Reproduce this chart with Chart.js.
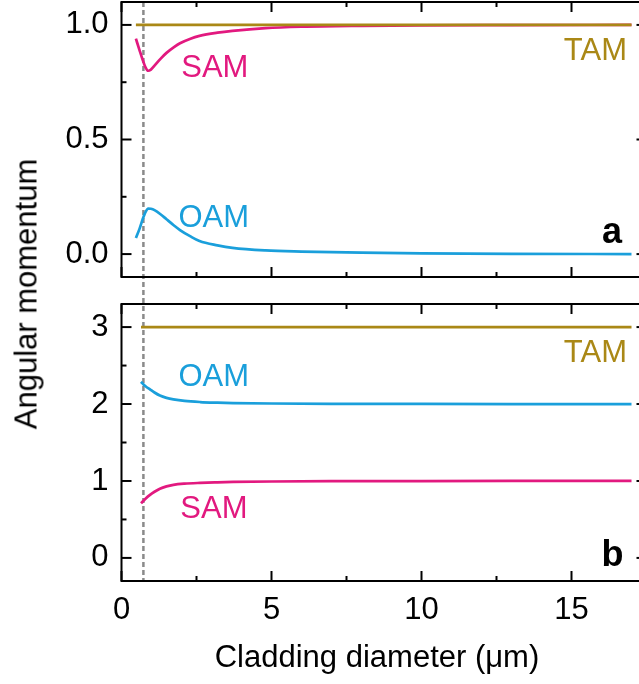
<!DOCTYPE html>
<html>
<head>
<meta charset="utf-8">
<script src="https://cdn.jsdelivr.net/npm/chart.js@4.4.0/dist/chart.umd.min.js"></script>
<style>
  body { margin: 0; width: 639px; height: 684px; overflow: hidden; background: #fff; position: relative; }
  canvas { position: absolute; left: 0; }
  #top { top: 0; }
  #bottom { top: 290px; }
  .axis-title {
    position: absolute; font-family: "Liberation Sans", Arial, sans-serif; font-size: 31px;
    line-height: 31px; white-space: nowrap; color: #000;
  }
  #ytitle { left: 26.4px; top: 294px; transform: translate(-50%, -50%) rotate(-90deg); }
  #xtitle { left: 377px; top: 640.5px; transform: translateX(-50%); }
</style>
</head>
<body>
<canvas id="top" width="660" height="290"></canvas>
<canvas id="bottom" width="660" height="394"></canvas>
<div id="ytitle" class="axis-title">Angular momentum</div>
<div id="xtitle" class="axis-title">Cladding diameter (μm)</div>
<script>
// axis ticks
const xTicks = [0, 5, 10, 15];
const xMinorTicks = [2.5, 7.5, 12.5, 17.5];
const topYTicks = [0, 0.5, 1.0];
const topYMinorTicks = [0.25, 0.75];
const bottomYTicks = [0, 1, 2, 3];
const bottomYMinorTicks = [0.5, 1.5, 2.5];
const cutoffDiameter = 0.73;

// panel a
const aTamX = [0.48, 17];
const aTam = [1, 1];
const aX = [0.48, 0.6, 0.7, 0.8, 0.89, 0.98, 1.1, 1.3, 1.5, 1.75, 1.95, 2.3, 2.6, 3.2, 3.7, 4.8, 6, 8, 10, 13, 17];
const aSam = [0.94, 0.89, 0.85, 0.815, 0.80, 0.805, 0.822, 0.852, 0.878, 0.903, 0.92, 0.94, 0.952, 0.966, 0.974, 0.986, 0.992, 0.996, 0.998, 0.999, 1.0];
const aOam = [0.07, 0.11, 0.15, 0.183, 0.199, 0.198, 0.192, 0.174, 0.152, 0.125, 0.105, 0.077, 0.057, 0.038, 0.027, 0.016, 0.011, 0.006, 0.003, 0.001, 0.0];

// panel b
const bTamX = [0.65, 17];
const bTam = [3, 3];
const bX = [0.65, 0.8, 0.95, 1.1, 1.28, 1.5, 1.73, 2.1, 2.62, 3.2, 3.72, 5, 7, 10, 13, 17];
const bOam = [2.29, 2.23, 2.19, 2.15, 2.11, 2.08, 2.06, 2.04, 2.026, 2.018, 2.013, 2.007, 2.003, 2.001, 2.0, 2.0];
const bSam = [0.71, 0.77, 0.82, 0.86, 0.90, 0.93, 0.95, 0.965, 0.975, 0.982, 0.987, 0.993, 0.997, 0.999, 1.0, 1.0];

const FONT = '"Liberation Sans", Arial, sans-serif';
const FS = 31;
const TAM_COLOR = '#AA8816';
const SAM_COLOR = '#E2197F';
const OAM_COLOR = '#1A9FDB';

const pts = (xs, ys) => xs.map((x, i) => ({ x: x, y: ys[i] }));

function line(data, color) {
  return {
    data: data,
    borderColor: color,
    borderWidth: 2.7,
    pointRadius: 0,
    fill: false,
    cubicInterpolationMode: 'monotone'
  };
}

// kill the label overflow padding so the plot box lands where we want it
function noPad(s) {
  s.paddingTop = 0; s.paddingBottom = 0; s.paddingLeft = 0; s.paddingRight = 0;
}

// box with inward ticks + dashed cutoff line
const framePlugin = {
  id: 'frame',
  beforeDatasetsDraw(chart, args, opts) {
    const { ctx, chartArea: a, scales: { x } } = chart;
    const px = x.getPixelForValue(cutoffDiameter);
    ctx.save();
    ctx.strokeStyle = '#8a8a8a';
    ctx.lineWidth = 2.5;
    ctx.setLineDash([5, 3]);
    ctx.beginPath();
    ctx.moveTo(px, opts.dashFrom === 'top' ? 0 : a.top);
    ctx.lineTo(px, opts.dashTo === 'bottom' ? chart.height : a.bottom);
    ctx.stroke();
    ctx.restore();
  },
  afterDatasetsDraw(chart, args, opts) {
    const { ctx, chartArea: a, scales: { x, y } } = chart;
    ctx.save();
    ctx.strokeStyle = '#000';
    ctx.lineWidth = 2;
    ctx.strokeRect(a.left, a.top, a.right - a.left, a.bottom - a.top);
    const seg = (x1, y1, x2, y2) => { ctx.beginPath(); ctx.moveTo(x1, y1); ctx.lineTo(x2, y2); ctx.stroke(); };
    const xt = (vals, len) => vals.forEach(v => {
      const p = x.getPixelForValue(v);
      seg(p, a.bottom, p, a.bottom - len);
      seg(p, a.top, p, a.top + len);
    });
    const yt = (vals, len) => vals.forEach(v => {
      const p = y.getPixelForValue(v);
      seg(a.left, p, a.left + len, p);
      seg(a.right, p, a.right - len, p);
    });
    xt(xTicks, 10); xt(xMinorTicks, 5);
    yt(opts.yMajor, 10); yt(opts.yMinor, 5);
    ctx.restore();
  }
};

// in-plot text labels
const notesPlugin = {
  id: 'notes',
  afterDatasetsDraw(chart, args, opts) {
    const { ctx, scales: { x, y } } = chart;
    ctx.save();
    ctx.textBaseline = 'alphabetic';
    opts.items.forEach(n => {
      ctx.font = (n.bold ? 'bold ' : '') + n.size + 'px ' + FONT;
      ctx.fillStyle = n.color;
      ctx.textAlign = n.align;
      ctx.fillText(n.text, x.getPixelForValue(n.x), y.getPixelForValue(n.y));
    });
    ctx.restore();
  }
};

function makePanel(id, cfg) {
  return new Chart(document.getElementById(id), {
    type: 'line',
    data: {
      datasets: [
        line(cfg.tam, TAM_COLOR),
        line(cfg.sam, SAM_COLOR),
        line(cfg.oam, OAM_COLOR)
      ]
    },
    options: {
      responsive: false,
      animation: false,
      events: [],
      layout: { padding: { top: cfg.padTop, right: 13.5, left: 0, bottom: 0 } },
      plugins: {
        legend: { display: false },
        tooltip: { enabled: false },
        frame: { yMajor: cfg.yTicks, yMinor: cfg.yMinor, dashFrom: cfg.dashFrom, dashTo: cfg.dashTo },
        notes: { items: cfg.notes }
      },
      scales: {
        x: {
          type: 'linear', min: 0, max: 17.5,
          grid: { display: false }, border: { display: false },
          afterBuildTicks: s => { s.ticks = xTicks.map(v => ({ value: v })); },
          afterFit: s => { s.height = cfg.xHeight; noPad(s); },
          ticks: { display: cfg.showX, padding: 3, color: '#000', font: { family: FONT, size: FS } }
        },
        y: {
          type: 'linear', min: cfg.yMin, max: cfg.yMax,
          grid: { display: false }, border: { display: false },
          afterBuildTicks: s => { s.ticks = cfg.yTicks.map(v => ({ value: v })); },
          afterFit: s => { s.width = 121.5; noPad(s); },
          ticks: {
            padding: 5, color: '#000', font: { family: FONT, size: FS },
            callback: v => v.toFixed(cfg.decimals)
          }
        }
      }
    },
    plugins: [framePlugin, notesPlugin]
  });
}

makePanel('top', {
  tam: pts(aTamX, aTam), sam: pts(aX, aSam), oam: pts(aX, aOam),
  yMin: -0.1, yMax: 1.1, yTicks: topYTicks, yMinor: topYMinorTicks, decimals: 1,
  padTop: 2, xHeight: 13, showX: false, dashFrom: 'area', dashTo: 'bottom',
  notes: [
    { text: 'SAM', x: 1.99, y: 0.772, color: SAM_COLOR, align: 'left', size: FS },
    { text: 'OAM', x: 1.9, y: 0.12, color: OAM_COLOR, align: 'left', size: FS },
    { text: 'TAM', x: 16.85, y: 0.845, color: TAM_COLOR, align: 'right', size: FS },
    { text: 'a', x: 16.68, y: 0.049, color: '#000', align: 'right', size: 36, bold: true }
  ]
});

makePanel('bottom', {
  tam: pts(bTamX, bTam), sam: pts(bX, bSam), oam: pts(bX, bOam),
  yMin: -0.3, yMax: 3.3, yTicks: bottomYTicks, yMinor: bottomYMinorTicks, decimals: 0,
  padTop: 14, xHeight: 103, showX: true, dashFrom: 'top', dashTo: 'area',
  notes: [
    { text: 'OAM', x: 1.9, y: 2.24, color: OAM_COLOR, align: 'left', size: FS },
    { text: 'SAM', x: 1.96, y: 0.525, color: SAM_COLOR, align: 'left', size: FS },
    { text: 'TAM', x: 16.85, y: 2.54, color: TAM_COLOR, align: 'right', size: FS },
    { text: 'b', x: 16.73, y: -0.108, color: '#000', align: 'right', size: 36, bold: true }
  ]
});
</script>
</body>
</html>
